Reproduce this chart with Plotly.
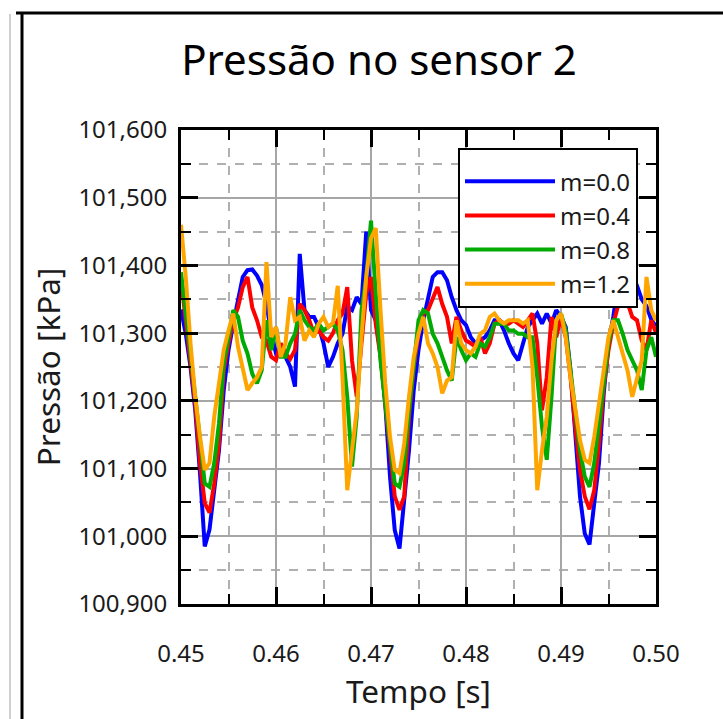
import numpy as np
import plotly.graph_objects as go

# time samples [s]
tempo = np.linspace(0.45, 0.50, 101)

m00 = [101335, 101299, 101250, 101186, 101093, 100985, 101010, 101063, 101127, 101216,
       101275, 101314, 101346, 101383, 101393, 101394, 101385, 101371, 101343, 101299,
       101270, 101275, 101265, 101250, 101221, 101417, 101334, 101324, 101324, 101309,
       101285, 101250, 101265, 101285, 101299, 101339, 101334, 101353, 101343, 101450,
       101334, 101319, 101270, 101196, 101088, 101009, 100982, 101049, 101127, 101216,
       101275, 101319, 101353, 101383, 101390, 101390, 101378, 101353, 101334, 101319,
       101312, 101294, 101285, 101289, 101294, 101304, 101319, 101319, 101304, 101285,
       101270, 101260, 101285, 101309, 101319, 101329, 101314, 101329, 101314, 101334,
       101324, 101309, 101245, 101147, 101059, 101004, 100988, 101049, 101108, 101211,
       101285, 101324, 101370, 101390, 101390, 101385, 101370, 101350, 101340, 101320,
       101310]

m04 = [101380, 101319, 101260, 101196, 101108, 101049, 101035, 101078, 101137, 101245,
       101285, 101319, 101338, 101368, 101383, 101338, 101319, 101294, 101289, 101265,
       101260, 101285, 101270, 101262, 101275, 101343, 101334, 101319, 101299, 101304,
       101294, 101289, 101300, 101319, 101329, 101368, 101260, 101206, 101285, 101358,
       101383, 101314, 101265, 101196, 101117, 101059, 101039, 101059, 101177, 101250,
       101299, 101329, 101334, 101353, 101368, 101343, 101324, 101285, 101324, 101304,
       101289, 101285, 101280, 101294, 101270, 101285, 101314, 101319, 101314, 101314,
       101319, 101314, 101309, 101319, 101329, 101285, 101186, 101235, 101324, 101294,
       101324, 101294, 101235, 101162, 101098, 101059, 101040, 101068, 101137, 101221,
       101275, 101314, 101340, 101350, 101345, 101324, 101319, 101289, 101275, 101319,
       101300]

m08 = [101390, 101334, 101270, 101206, 101137, 101078, 101073, 101108, 101167, 101255,
       101294, 101334, 101324, 101289, 101270, 101240, 101226, 101245, 101319, 101275,
       101309, 101265, 101265, 101285, 101299, 101334, 101319, 101309, 101304, 101314,
       101304, 101309, 101314, 101304, 101275, 101206, 101103, 101177, 101334, 101383,
       101466, 101358, 101260, 101196, 101137, 101078, 101073, 101108, 101186, 101260,
       101319, 101334, 101329, 101299, 101285, 101265, 101245, 101230, 101294, 101275,
       101260, 101270, 101265, 101285, 101280, 101294, 101314, 101314, 101314, 101304,
       101304, 101299, 101299, 101294, 101294, 101235, 101162, 101113, 101206, 101319,
       101329, 101304, 101245, 101186, 101127, 101088, 101073, 101108, 101167, 101235,
       101285, 101319, 101319, 101299, 101275, 101260, 101245, 101216, 101275, 101294,
       101265]

m12 = [101460, 101383, 101285, 101206, 101147, 101098, 101108, 101177, 101226, 101275,
       101304, 101329, 101280, 101245, 101216, 101226, 101235, 101250, 101405, 101294,
       101309, 101265, 101285, 101353, 101319, 101324, 101289, 101304, 101294, 101314,
       101324, 101309, 101315, 101370, 101235, 101068, 101127, 101186, 101294, 101383,
       101440, 101455, 101334, 101226, 101147, 101098, 101093, 101137, 101206, 101265,
       101299, 101324, 101285, 101270, 101250, 101211, 101230, 101235, 101319, 101285,
       101275, 101270, 101280, 101299, 101304, 101324, 101329, 101319, 101314, 101319,
       101319, 101319, 101314, 101319, 101250, 101068, 101127, 101177, 101260, 101319,
       101329, 101294, 101235, 101186, 101142, 101113, 101108, 101147, 101196, 101250,
       101294, 101319, 101294, 101265, 101245, 101206, 101235, 101260, 101383, 101334,
       101319]

series_names = ["m=0.0", "m=0.4", "m=0.8", "m=1.2"]
series_values = [m00, m04, m08, m12]
series_colors = ["#0000ff", "#ff0000", "#00aa00", "#ffa500"]

x_ticks = [0.45, 0.46, 0.47, 0.48, 0.49, 0.50]
y_ticks = [100900, 101000, 101100, 101200, 101300, 101400, 101500, 101600]

FONT = "Noto Sans"
W, H = 723, 719
L, R, T, B = 181, 656, 130, 604

fig = go.Figure()
for k, (nm, vals, col) in enumerate(zip(series_names, series_values, series_colors)):
    fig.add_trace(go.Scatter(x=tempo, y=vals, mode="lines", name=nm,
                             legendgroup=f"g{k}",
                             line=dict(color=col, width=4)))

axis_common = dict(
    showline=True, linecolor="black", linewidth=3, mirror="allticks",
    ticks="inside", ticklen=17, tickwidth=2.5, tickcolor="black",
    showgrid=True, gridcolor="#a6a6a6", gridwidth=2,
    zeroline=False,
    tickfont=dict(family=FONT, size=24, color="#1a1a1a"),
)

fig.update_xaxes(
    range=[0.45, 0.50], tickvals=x_ticks, tickformat=".2f",
    title=dict(text="Tempo [s]", font=dict(family=FONT, size=31.5, color="#1a1a1a"), standoff=4),
    ticklabelstandoff=26,
    minor=dict(dtick=0.005, tick0=0.45, ticks="inside", ticklen=10, tickwidth=2,
               tickcolor="black", showgrid=True, gridcolor="#b0b0b0", gridwidth=2,
               griddash="dash"),
    **axis_common)
fig.update_yaxes(
    range=[100900, 101600], tickvals=y_ticks, tickformat=",d",
    title=dict(text="Pressão [kPa]", font=dict(family=FONT, size=31.5, color="#1a1a1a"), standoff=9),
    ticklabelstandoff=6,
    minor=dict(dtick=50, tick0=100900, ticks="inside", ticklen=10, tickwidth=2,
               tickcolor="black", showgrid=True, gridcolor="#b0b0b0", gridwidth=2,
               griddash="dash"),
    **axis_common)

def px_x(p):
    return (p - L) / (R - L)

def px_y(p):
    return (B - p) / (B - T)

# outer frame lines of the original figure
fig.add_shape(type="line", xref="paper", yref="paper",
              x0=px_x(10), x1=px_x(10), y0=px_y(14), y1=px_y(730),
              line=dict(color="#a0a0a0", width=1))
fig.add_shape(type="line", xref="paper", yref="paper",
              x0=px_x(22), x1=px_x(22), y0=px_y(12), y1=px_y(730),
              line=dict(color="black", width=3))
fig.add_shape(type="line", xref="paper", yref="paper",
              x0=px_x(16), x1=px_x(740), y0=px_y(13), y1=px_y(13),
              line=dict(color="black", width=3))

fig.update_layout(
    width=W, height=H,
    margin=dict(l=L, r=W - R, t=T, b=H - B, autoexpand=False),
    paper_bgcolor="white", plot_bgcolor="white",
    title=dict(text="Pressão no sensor 2", x=379 / W, xref="container", xanchor="center",
               y=1 - 60 / H, yref="container", yanchor="middle",
               font=dict(family=FONT, size=42, color="black")),
    showlegend=True,
    legend=dict(x=px_x(458), y=px_y(148), xanchor="left", yanchor="top",
                bgcolor="white", bordercolor="black", borderwidth=2,
                font=dict(family=FONT, size=24, color="#1a1a1a"),
                title=dict(text=" ", font=dict(family=FONT, size=7)),
                itemwidth=90, tracegroupgap=3, traceorder="normal"),
)

fig.write_html("out.html")
